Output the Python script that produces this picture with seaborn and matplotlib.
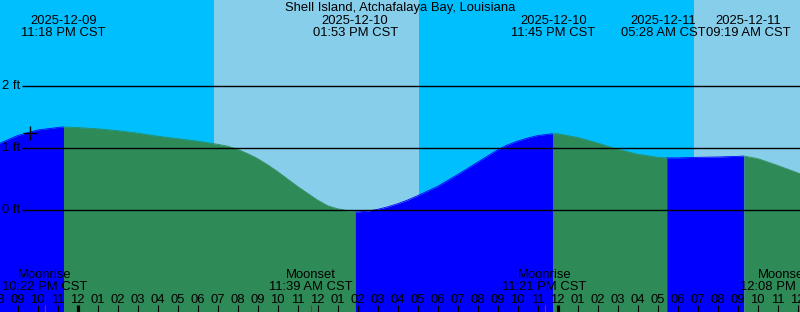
import matplotlib
matplotlib.use("Agg")
import matplotlib.pyplot as plt
import matplotlib.transforms as mtransforms
import numpy as np
import pandas as pd
import seaborn as sns

# ---------------- data ----------------
title = "Shell Island, Atchafalaya Bay, Louisiana"

# hours relative to midnight starting 2025-12-10 (CST), with tide heights (ft)
hours = [-4, -3, -2, -1, 0, 1, 2, 3, 4, 5, 6, 7, 7.5, 8, 8.5, 9, 9.5, 10, 11,
         12, 12.5, 13, 13.5, 14, 14.5, 15, 15.5, 16, 16.5, 17, 18, 19, 20, 21,
         21.5, 22, 22.5, 23, 24, 25, 26, 27, 28, 29, 30, 31, 32, 33, 34, 35,
         36, 37]
heights = [1.06, 1.20, 1.29, 1.33, 1.33, 1.31, 1.28, 1.24, 1.19, 1.15, 1.11,
           1.06, 1.03, 0.98, 0.91, 0.83, 0.73, 0.62, 0.38, 0.16, 0.07, 0.02,
           -0.01, -0.03, -0.02, 0.01, 0.05, 0.10, 0.16, 0.23, 0.38, 0.57, 0.77,
           0.97, 1.05, 1.11, 1.16, 1.20, 1.23, 1.17, 1.08, 0.98, 0.90, 0.85,
           0.84, 0.85, 0.855, 0.865, 0.83, 0.72, 0.60, 0.47]

event_hours = [-0.7, 13.883, 23.75, 29.467, 33.317]
event_heights = [1.34, -0.03, 1.23, 0.84, 0.87]
event_dates = ["2025-12-09", "2025-12-10", "2025-12-10", "2025-12-11", "2025-12-11"]
event_times = ["11:18 PM CST", "01:53 PM CST", "11:45 PM CST", "05:28 AM CST", "09:19 AM CST"]

sun_hours = [6.825, 17.075, 30.825]          # sunrise, sunset, sunrise

moon_hours = [-1.633, 11.65, 23.35, 36.133]
moon_names = ["Moonrise", "Moonset", "Moonrise", "Moonset"]
moon_times = ["10:22 PM CST", "11:39 AM CST", "11:21 PM CST", "12:08 PM CST"]

tick_hours = list(range(-4, 37))
tick_labels = ["08", "09", "10", "11",
               "12", "01", "02", "03", "04", "05", "06", "07", "08", "09", "10", "11",
               "12", "01", "02", "03", "04", "05", "06", "07", "08", "09", "10", "11",
               "12", "01", "02", "03", "04", "05", "06", "07", "08", "09", "10", "11",
               "12"]
midnight_hours = [0, 24]

level_values = [0, 1, 2]
level_labels = ["0 ft", "1 ft", "2 ft"]

marker_hour = [-2.375]
marker_height = [1.25]

# ---------------- style ----------------
sns.set_theme(style="white")
plt.rcParams['font.family'] = ['Liberation Sans', 'DejaVu Sans']
FS = 9.4
NIGHT = "#00BFFF"
DAY = "#87CEEB"
RISE = "#0000FF"
FALL = "#2E8B57"

# label nudges in pixels (to avoid overlaps, as in the original)
event_nudge_px = [0, 0, 1, -4, 4]
moon_nudge_px = [0, 0, 0, -17]

W, H = 800, 312
fig = plt.figure(figsize=(W / 100, H / 100), dpi=100)
ax = fig.add_axes([0, 0, 1, 1])


def px_h(x):
    return (x - 77.5) / 20.0


def yf(y):
    return 1 - y / H


x0, x1 = px_h(0), px_h(W)
ax.set_xlim(x0, x1)
ax.set_ylim(-102 / 62, 210 / 62)
ax.axis("off")
blend = mtransforms.blended_transform_factory(ax.transData, ax.transAxes)

# day / night background
bounds = [x0] + sun_hours + [x1]
for i in range(len(bounds) - 1):
    ax.axvspan(bounds[i], bounds[i + 1], color=NIGHT if i % 2 == 0 else DAY,
               lw=0, zorder=0)

# tide curve
df = pd.concat([pd.DataFrame({"t": hours, "h": heights}),
                pd.DataFrame({"t": event_hours, "h": event_heights})])
df = df.sort_values("t").reset_index(drop=True)
seg_bounds = [df.t.min()] + event_hours + [df.t.max()]
ymin = ax.get_ylim()[0] - 1
for i in range(len(seg_bounds) - 1):
    a, b = seg_bounds[i], seg_bounds[i + 1]
    seg = df[(df.t >= a) & (df.t <= b)]
    col = RISE if i % 2 == 0 else FALL
    ax.fill_between(seg.t, seg.h, ymin, color=col, lw=0, zorder=1)
    sns.lineplot(data=seg, x="t", y="h", ax=ax, color=col, lw=0.6,
                 zorder=1.5, sort=True, estimator=None)

# level lines
for v, lab in zip(level_values, level_labels):
    ax.hlines(v, px_h(22), x1, color="black", lw=1.0, zorder=3)
    ax.text(px_h(2), v, lab, fontsize=FS, ha="left", va="center",
            color="black", zorder=4)

# marker
sns.scatterplot(x=marker_hour, y=marker_height, ax=ax, marker="+", s=110,
                color="black", linewidth=1.0, zorder=5)

# title
ax.text(0.5, yf(11.3), title, transform=ax.transAxes, fontsize=FS,
        ha="center", va="baseline", color="black")

# tide event labels
for t, d, tm, nd in zip(event_hours, event_dates, event_times, event_nudge_px):
    xt = t + nd / 20.0
    ax.text(xt, yf(24), d, transform=blend, fontsize=FS, ha="center",
            va="baseline", color="black", zorder=6)
    ax.text(xt, yf(36.3), tm, transform=blend, fontsize=FS, ha="center",
            va="baseline", color="black", zorder=6)

# moon labels
for t, n, tm, nd in zip(moon_hours, moon_names, moon_times, moon_nudge_px):
    xt = t + nd / 20.0
    ax.text(xt, yf(278.3), n, transform=blend, fontsize=FS, ha="center",
            va="baseline", color="black", zorder=6)
    ax.text(xt, yf(290), tm, transform=blend, fontsize=FS, ha="center",
            va="baseline", color="black", zorder=6)
    ax.vlines(t, 0, yf(304.5), transform=blend, color="red", lw=0.8, zorder=6)

# hour ticks and labels
for t, lab in zip(tick_hours, tick_labels):
    ax.text(t, yf(302.7), lab, transform=blend, fontsize=FS, ha="center",
            va="baseline", color="black", zorder=6)
    lw = 2.3 if t in midnight_hours else 0.8
    ax.vlines(t, 0, yf(304.5), transform=blend, color="black", lw=lw, zorder=6)

fig.savefig("out.png", dpi=100)
